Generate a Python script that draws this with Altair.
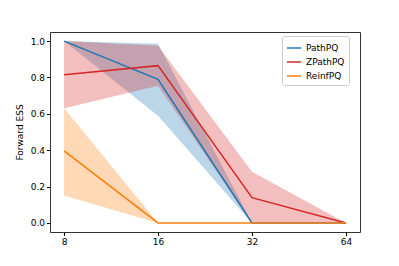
import altair as alt
import pandas as pd

xs = [8, 16, 32, 64]
series = ["PathPQ", "ZPathPQ", "ReinfPQ"]
colors = ["#1f77b4", "#d62728", "#ff7f0e"]
yticks = [0.0, 0.2, 0.4, 0.6, 0.8, 1.0]

path_mean = [1.0, 0.79, 0.0, 0.0]
path_lo = [1.0, 0.59, 0.0, 0.0]
path_hi = [1.0, 0.985, 0.0, 0.0]

zpath_mean = [0.815, 0.865, 0.139, 0.0]
zpath_lo = [0.63, 0.754, 0.0, 0.0]
zpath_hi = [1.0, 0.975, 0.281, 0.0]

reinf_mean = [0.396, 0.0, 0.0, 0.0]
reinf_lo = [0.151, 0.0, 0.0, 0.0]
reinf_hi = [0.63, 0.0, 0.0, 0.0]

rows = []
for name, m, lo, hi in [("PathPQ", path_mean, path_lo, path_hi),
                        ("ZPathPQ", zpath_mean, zpath_lo, zpath_hi),
                        ("ReinfPQ", reinf_mean, reinf_lo, reinf_hi)]:
    for i, x in enumerate(xs):
        rows.append({"n": x, "series": name, "mean": m[i], "lo": lo[i], "hi": hi[i]})
df = pd.DataFrame(rows)

xscale = alt.Scale(type="log", base=2, domain=[2 ** 2.85, 2 ** 6.15], nice=False)
yscale = alt.Scale(domain=[-0.05, 1.05], nice=False, zero=False)

xaxis = alt.Axis(values=xs, title=None, grid=False, tickSize=3.5, labelFontSize=9,
                 labelColor="#000", tickColor="#000", domain=False, labelPadding=2,
                 labelFont="DejaVu Sans", labelFlush=False, labelOverlap=False)
yaxis = alt.Axis(values=yticks, format=".1f", title="Forward ESS",
                 grid=False, tickSize=3.5, labelFontSize=9, labelColor="#000",
                 tickColor="#000", domain=False, titleFontSize=9, titleFontWeight="normal",
                 titleColor="#000", labelPadding=2, titlePadding=6, labelFont="DejaVu Sans",
                 titleFont="DejaVu Sans", labelOverlap=False, labelFlush=False)

base = alt.Chart(df)

bands = base.mark_area(opacity=0.3, strokeWidth=0).encode(
    x=alt.X("n:Q", scale=xscale, axis=xaxis),
    y=alt.Y("lo:Q", scale=yscale, axis=yaxis),
    y2="hi:Q",
    fill=alt.Fill("series:N", scale=alt.Scale(domain=series, range=colors), legend=None),
    detail="series:N",
)

lines = base.mark_line(strokeWidth=1.5).encode(
    x=alt.X("n:Q", scale=xscale, axis=xaxis),
    y=alt.Y("mean:Q", scale=yscale, axis=yaxis),
    color=alt.Color("series:N", scale=alt.Scale(domain=series, range=colors),
                    legend=alt.Legend(title=None, orient="none", legendX=232, legendY=4,
                                      symbolType="stroke", symbolStrokeWidth=1.5,
                                      symbolSize=200, labelFontSize=9, labelColor="#000",
                                      labelFont="DejaVu Sans",
                                      fillColor="white", strokeColor="#ccc",
                                      padding=4, cornerRadius=2, rowPadding=1)),
)

chart = alt.layer(bands, lines).resolve_legend(
    color="independent", fill="independent"
).resolve_scale(color="independent", fill="independent").properties(
    width=310, height=200,
    autosize=alt.AutoSizeParams(type="none"),
    padding={"left": 42, "top": 24, "right": 30, "bottom": 26},
).configure_view(stroke="#333", strokeWidth=1)

chart.save("out.html", embed_options={"renderer": "svg", "actions": False})
